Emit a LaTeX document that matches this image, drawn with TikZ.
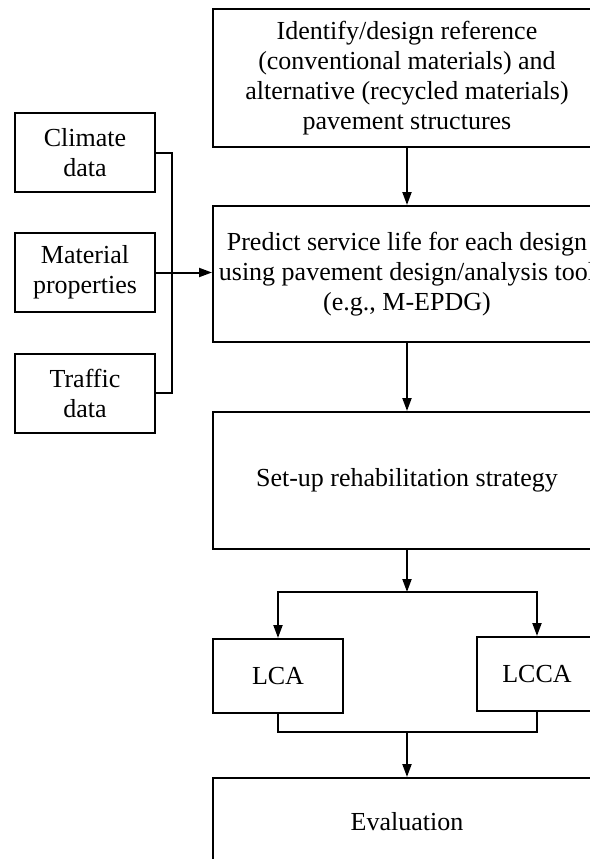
\documentclass[tikz,border=0pt]{standalone}
\usepackage{fontspec}
\setmainfont{Liberation Serif}
\usepackage{tikz}
\usetikzlibrary{positioning,arrows.meta}

\begin{document}
\begin{tikzpicture}[x=0.5pt, y=-0.5pt, line width=1pt, >={Triangle[length=6.5pt,width=4.5pt]},
		box/.style={draw, align=center, font=\fontsize{13}{15}\selectfont, inner sep=2pt},
		mainbox/.style={box, minimum width=194pt},
		sidebox/.style={box, minimum width=70pt, minimum height=39.5pt}]
		\useasboundingbox (0,0) rectangle (590,859);

		\node[mainbox, minimum height=69pt] (ident) at (407,78) {Identify/design reference\\(conventional materials) and\\alternative (recycled materials)\\pavement structures};
		\node[mainbox, minimum height=68pt] (predict) [below=28.5pt of ident] {Predict service life for each design\\using pavement design/analysis tool\\(e.g., M-EPDG)};
		\node[mainbox, minimum height=68.5pt] (setup) [below=34pt of predict] {Set-up rehabilitation strategy};
		\node[box, minimum width=65pt, minimum height=37pt] (lca) at (278,676) {LCA};
		\node[box, minimum width=60pt, minimum height=37pt] (lcca) at (537,674) {LCCA};
		\node[mainbox, minimum height=44pt] (eval) at (407,822) {Evaluation};

		%inputs on the left
		\node[sidebox] (climate) at (85,152.5) {Climate\\data};
		\node[sidebox] (material) at (85,272.5) {Material\\properties};
		\node[sidebox] (traffic) at (85,393) {Traffic\\data};

		\coordinate (brk) at (172,273);
		\coordinate (split) at (407,592);
		\coordinate (join) at (407,732);

		\draw[->] (ident) -- (predict);
		\draw[->] (predict) -- (setup);
		\draw[->] (setup) -- (split);
		\draw[->] (split) -| (lca.north);
		\draw[->] (split) -| (lcca.north);
		\draw (lca.south) |- (join) -| (lcca.south);
		\draw[->] (join) -- (eval);

		\draw (climate.east) -| (brk) |- (traffic.east);
		\draw[->] (material.east) -- (predict.west |- material.east);
	\end{tikzpicture}
\end{document}
